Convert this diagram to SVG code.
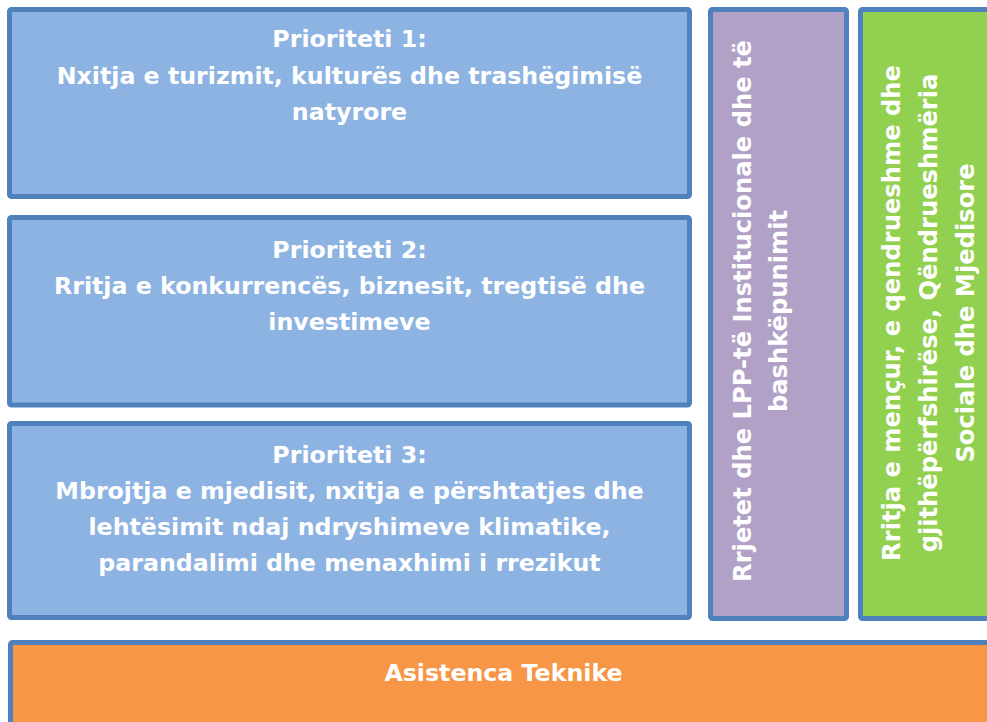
<svg xmlns="http://www.w3.org/2000/svg" width="987" height="722" viewBox="0 0 987 722">
<style>
.box{stroke:#4F81BD;stroke-width:5}
.blue{fill:#8DB3E2}
.purple{fill:#B2A1C7}
.green{fill:#92D050}
.orange{fill:#F79646}
.t{font-family:"DejaVu Sans","Liberation Sans",sans-serif;font-weight:bold;font-size:23.7px;fill:#FFFFFF;text-anchor:middle}
.v{font-size:24.2px}
</style>
<rect width="987" height="722" fill="#FFFFFF"/>
<g id="p1">
<rect class="box blue" x="9.5" y="9.5" width="680" height="187" rx="2"/>
<text class="t" x="349.5" y="47">Prioriteti 1:</text>
<text class="t" x="349.5" y="83.5">Nxitja e turizmit, kulturës dhe trashëgimisë</text>
<text class="t" x="349.5" y="120">natyrore</text>
</g>
<g id="p2">
<rect class="box blue" x="9.5" y="217.5" width="680" height="187.5" rx="2"/>
<text class="t" x="349.5" y="257.5">Prioriteti 2:</text>
<text class="t" x="349.5" y="293.5">Rritja e konkurrencës, biznesit, tregtisë dhe</text>
<text class="t" x="349.5" y="329.5">investimeve</text>
</g>
<g id="p3">
<rect class="box blue" x="9.5" y="423.5" width="680" height="194" rx="2"/>
<text class="t" x="349.5" y="462.5">Prioriteti 3:</text>
<text class="t" x="349.5" y="498.5">Mbrojtja e mjedisit, nxitja e përshtatjes dhe</text>
<text class="t" x="349.5" y="535">lehtësimit ndaj ndryshimeve klimatike,</text>
<text class="t" x="349.5" y="571">parandalimi dhe menaxhimi i rrezikut</text>
</g>
<g id="networks">
<rect class="box purple" x="710.5" y="9.5" width="136" height="609" rx="2"/>
<text class="t v" transform="translate(751,311) rotate(-90)">Rrjetet dhe LPP-të Institucionale dhe të</text>
<text class="t v" transform="translate(787,311) rotate(-90)">bashkëpunimit</text>
</g>
<g id="growth">
<rect class="box green" x="860.5" y="9.5" width="140" height="609" rx="2"/>
<text class="t v" transform="translate(900,313) rotate(-90)">Rritja e mençur, e qendrueshme dhe</text>
<text class="t v" transform="translate(937,313) rotate(-90)">gjithëpërfshirëse, Qëndrueshmëria</text>
<text class="t v" transform="translate(974,313) rotate(-90)">Sociale dhe Mjedisore</text>
</g>
<g id="ta">
<rect class="box orange" x="10.5" y="642.5" width="990" height="100" rx="2"/>
<text class="t" x="503.5" y="681">Asistenca Teknike</text>
</g>
<g id="connectors"></g>
</svg>
